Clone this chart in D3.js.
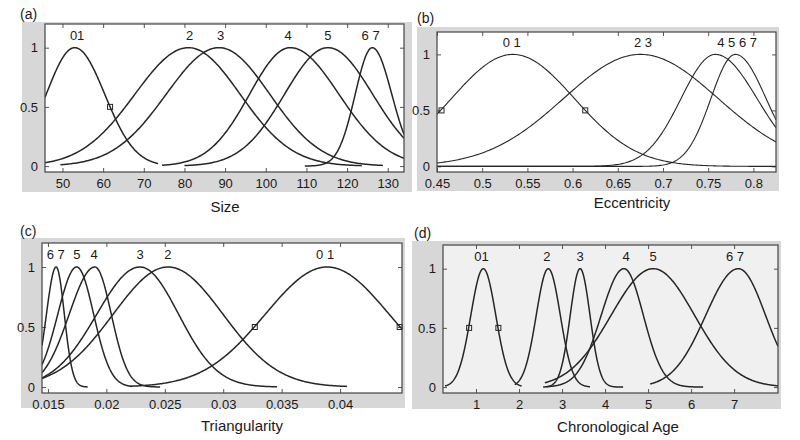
<!DOCTYPE html>
<html>
<head>
<meta charset="utf-8">
<script src="https://cdn.jsdelivr.net/npm/d3@7"></script>
<style>
  body { margin: 0; background: #fff; }
  svg { display: block; }
  text { font-family: "Liberation Sans", Arial, sans-serif; fill: #1a1a1a; }
</style>
</head>
<body>
<div id="chart"></div>
<script>
// (a) Size
var sizeNames   = ["01", "2", "3", "4", "5", "67"];
var sizeCenter  = [53, 81, 88.5, 106, 115.3, 126.2];
var sizeSigmaL  = [7, 13.2, 13, 10, 10.7, 4.2];
var sizeSigmaR  = [7.4, 12.7, 12.5, 12, 11, 4.8];
var sizeStart   = [45.7, 45.7, 49.5, 74.5, 80, 109.6];
var sizeEnd     = [73.5, 123.6, 128.8, 134, 134, 134];
var sizeLabels  = ["01", "2", "3", "4", "5", "6 7"];
var sizeLabelX  = [53.6, 81.3, 88.9, 105.5, 115.3, 125.8];
var sizeMarkers = [61.7];
var sizeTicks   = [50, 60, 70, 80, 90, 100, 110, 120, 130];

// (b) Eccentricity
var eccNames   = ["01", "23", "45", "67"];
var eccCenter  = [0.534, 0.675, 0.758, 0.78];
var eccSigmaL  = [0.068, 0.085, 0.038, 0.027];
var eccSigmaR  = [0.068, 0.086, 0.046, 0.034];
var eccStart   = [0.45, 0.45, 0.45, 0.45];
var eccEnd     = [0.825, 0.825, 0.825, 0.825];
var eccLabels  = ["0 1", "2 3", "4 5 6 7"];
var eccLabelX  = [0.5327, 0.6778, 0.782];
var eccMarkers = [0.455, 0.614];
var eccTicks   = [0.45, 0.5, 0.55, 0.6, 0.65, 0.7, 0.75, 0.8];

// (c) Triangularity
var triNames   = ["67", "5", "4", "3", "2", "01"];
var triCenter  = [0.0157, 0.01746, 0.01902, 0.02288, 0.02528, 0.0389];
var triSigmaL  = [0.00083, 0.00162, 0.0022, 0.0037, 0.0047, 0.0053];
var triSigmaR  = [0.0007, 0.00145, 0.0014, 0.0033, 0.0047, 0.0053];
var triStart   = [0.01449, 0.01449, 0.01449, 0.01449, 0.01449, 0.022];
var triEnd     = [0.0184, 0.0222, 0.0246, 0.0346, 0.0406, 0.0453];
var triLabels  = ["6 7", "5", "4", "3", "2", "0 1"];
var triLabelX  = [0.01567, 0.01748, 0.01894, 0.02288, 0.02527, 0.03872];
var triMarkers = [0.0327, 0.0451];
var triTicks   = [0.015, 0.02, 0.025, 0.03, 0.035, 0.04];

// (d) Chronological Age
var ageNames   = ["01", "2", "3", "4", "5", "67"];
var ageCenter  = [1.17, 2.68, 3.42, 4.44, 5.12, 7.1];
var ageSigmaL  = [0.29, 0.28, 0.23, 0.53, 0.98, 0.76];
var ageSigmaR  = [0.29, 0.28, 0.23, 0.45, 0.96, 0.63];
var ageStart   = [0.28, 1.9, 2.56, 2.64, 2.6, 5.05];
var ageEnd     = [2.06, 3.65, 4.42, 6.28, 8.02, 8.02];
var ageLabels  = ["01", "2", "3", "4", "5", "6 7"];
var ageLabelX  = [1.13, 2.65, 3.42, 4.49, 5.12, 7.02];
var ageMarkers = [0.84, 1.52];
var ageTicks   = [1, 2, 3, 4, 5, 6, 7];

var yTicks = [0, 0.5, 1];

var panels = [
  { tag: "(a)", tagPos: [20, 19], bg: [22, 22, 412, 192], box: [45, 24, 404, 172], fill: "#fff",
    xDomain: [45.7, 134], title: "Size", titlePos: [225, 212],
    center: sizeCenter, sL: sizeSigmaL, sR: sizeSigmaR, start: sizeStart, end: sizeEnd,
    labels: sizeLabels, labelX: sizeLabelX, markers: sizeMarkers, ticks: sizeTicks, width: 1.5 },
  { tag: "(b)", tagPos: [417, 23], bg: [417, 27, 779, 191], box: [437, 32, 776, 172], fill: "#fff",
    xDomain: [0.45, 0.825], title: "Eccentricity", titlePos: [632, 208],
    center: eccCenter, sL: eccSigmaL, sR: eccSigmaR, start: eccStart, end: eccEnd,
    labels: eccLabels, labelX: eccLabelX, markers: eccMarkers, ticks: eccTicks, width: 1.1 },
  { tag: "(c)", tagPos: [20, 236], bg: [21, 238, 405, 408], box: [42, 243, 402, 393], fill: "#fff",
    xDomain: [0.01449, 0.0453], title: "Triangularity", titlePos: [242, 431],
    center: triCenter, sL: triSigmaL, sR: triSigmaR, start: triStart, end: triEnd,
    labels: triLabels, labelX: triLabelX, markers: triMarkers, ticks: triTicks, width: 1.5 },
  { tag: "(d)", tagPos: [414, 238], bg: [412, 241, 781, 409], box: [443, 245, 778, 393], fill: "#f0f0f0",
    xDomain: [0.233, 8.02], title: "Chronological Age", titlePos: [618, 432],
    center: ageCenter, sL: ageSigmaL, sR: ageSigmaR, start: ageStart, end: ageEnd,
    labels: ageLabels, labelX: ageLabelX, markers: ageMarkers, ticks: ageTicks, width: 1.5 }
];

var svg = d3.select("#chart").append("svg")
  .attr("width", 800)
  .attr("height", 440);

// two-sided gaussian membership value
function membership(x, c, sl, sr) {
  var s = x < c ? sl : sr;
  return Math.exp(-(x - c) * (x - c) / (2 * s * s));
}

panels.forEach(drawPanel);

function drawPanel(p, idx) {
  var b = p.box;
  var x = d3.scaleLinear().domain(p.xDomain).range([b[0], b[2]]);
  var y = d3.scaleLinear().domain([-0.05, 1.2]).range([b[3], b[1]]);

  // gray figure background
  svg.append("rect")
    .attr("x", p.bg[0]).attr("y", p.bg[1])
    .attr("width", p.bg[2] - p.bg[0]).attr("height", p.bg[3] - p.bg[1])
    .style("fill", "#d7d7d7");

  svg.append("rect")
    .attr("x", b[0]).attr("y", b[1])
    .attr("width", b[2] - b[0]).attr("height", b[3] - b[1])
    .style("fill", p.fill);

  svg.append("text")
    .attr("x", p.tagPos[0]).attr("y", p.tagPos[1])
    .style("font-size", "14px")
    .text(p.tag);

  svg.append("clipPath").attr("id", "clip" + idx)
    .append("rect")
    .attr("x", b[0]).attr("y", b[1])
    .attr("width", b[2] - b[0]).attr("height", b[3] - b[1]);

  var fmt = d3.format("~g");

  // axes, ticks pointing inwards like matlab
  var gx = svg.append("g").attr("transform", "translate(0," + b[3] + ")")
    .call(d3.axisBottom(x).tickValues(p.ticks).tickSizeInner(-4).tickSizeOuter(0).tickPadding(7).tickFormat(fmt));
  var gt = svg.append("g").attr("transform", "translate(0," + b[1] + ")")
    .call(d3.axisTop(x).tickValues(p.ticks).tickSizeInner(-4).tickSizeOuter(0).tickFormat(""));
  var gy = svg.append("g").attr("transform", "translate(" + b[0] + ",0)")
    .call(d3.axisLeft(y).tickValues(yTicks).tickSizeInner(-4).tickSizeOuter(0).tickPadding(7).tickFormat(fmt));
  var gr = svg.append("g").attr("transform", "translate(" + b[2] + ",0)")
    .call(d3.axisRight(y).tickValues(yTicks).tickSizeInner(-4).tickSizeOuter(0).tickFormat(""));

  [gx, gt, gy, gr].forEach(function(g) {
    g.select(".domain").remove();
    g.selectAll("line").style("stroke", "#555");
    g.selectAll("text")
      .style("font-size", "13px")
      .style("font-family", "'Liberation Sans', Arial, sans-serif")
      .style("fill", "#1a1a1a");
  });

  // membership curves
  var line = d3.line()
    .x(function(d) { return x(d[0]); })
    .y(function(d) { return y(d[1]); });

  var curves = p.center.map(function(c, i) {
    var pts = [];
    var n = 240;
    for (var k = 0; k <= n; k++) {
      var xv = p.start[i] + (p.end[i] - p.start[i]) * k / n;
      pts.push([xv, membership(xv, c, p.sL[i], p.sR[i])]);
    }
    return pts;
  });

  svg.append("g")
    .attr("clip-path", "url(#clip" + idx + ")")
    .selectAll("path")
    .data(curves)
    .enter()
    .append("path")
    .attr("d", line)
    .style("fill", "none")
    .style("stroke", "#262626")
    .style("stroke-width", p.width + "px");

  // half-height markers
  svg.append("g")
    .selectAll("rect")
    .data(p.markers)
    .enter()
    .append("rect")
    .attr("x", function(d) { return x(d) - 2.5; })
    .attr("y", y(0.5) - 2.5)
    .attr("width", 5)
    .attr("height", 5)
    .style("fill", "none")
    .style("stroke", "#262626")
    .style("stroke-width", "1px");

  // class labels above the peaks
  svg.append("g")
    .selectAll("text")
    .data(p.labels)
    .enter()
    .append("text")
    .attr("x", function(d, i) { return x(p.labelX[i]); })
    .attr("y", y(1.1) + 4)
    .attr("text-anchor", "middle")
    .style("font-size", "13px")
    .text(function(d) { return d; });

  // frame
  svg.append("rect")
    .attr("x", b[0]).attr("y", b[1])
    .attr("width", b[2] - b[0]).attr("height", b[3] - b[1])
    .style("fill", "none")
    .style("stroke", "#444")
    .style("stroke-width", "1.2px");

  svg.append("text")
    .attr("x", p.titlePos[0]).attr("y", p.titlePos[1])
    .attr("text-anchor", "middle")
    .style("font-size", "15px")
    .text(p.title);
}
</script>
</body>
</html>
